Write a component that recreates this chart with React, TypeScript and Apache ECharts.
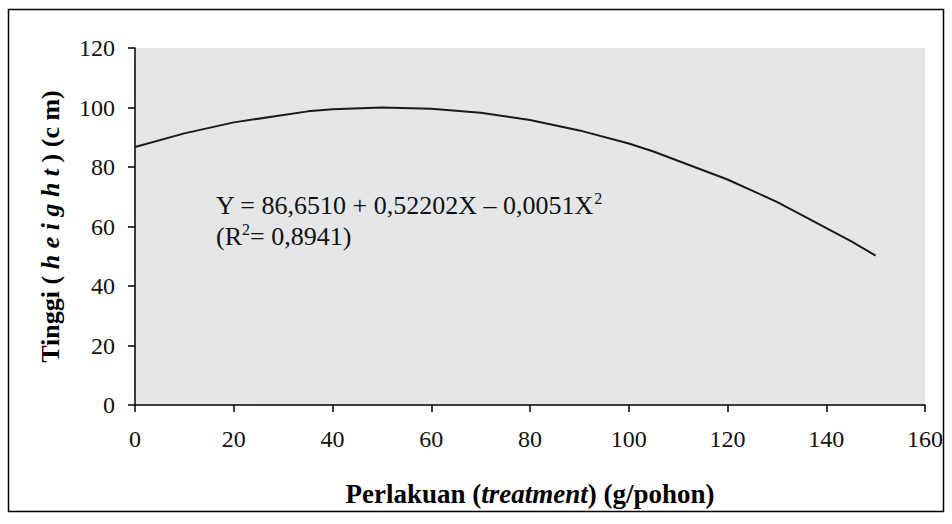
import React, { useEffect, useRef } from "react";
import * as echarts from "echarts";

const xValues = [0, 10, 20, 35, 40, 50, 60, 70, 80, 90, 100, 105, 120, 130, 145, 150];
const yValues = [86.7, 91.3, 95.0, 98.7, 99.4, 100.0, 99.6, 98.2, 95.8, 92.3, 87.9, 85.2, 75.8, 68.3, 55.1, 50.2];
const xTitle = ["Perlakuan (", "treatment", ") (g/pohon)"];
const yTitle = ["Tinggi ( ", "h e i g h t", " ) (c m)"];
const equationLine1 = "Y = 86,6510 + 0,52202X \u2013 0,0051X";
const equationLine2a = "(R";
const equationLine2b = "= 0,8941)";

const FONT = "'Liberation Serif', 'Times New Roman', serif";

export default function App() {
  const ref = useRef<HTMLDivElement>(null);
  useEffect(() => {
    if (!ref.current) return;
    const chart = echarts.init(ref.current, null, { renderer: "svg" });
    const data = xValues.map((x, i) => [x, yValues[i]]);
    chart.setOption({
      animation: false,
      backgroundColor: "#ffffff",
      textStyle: { fontFamily: FONT },
      grid: {
        left: 135,
        right: 27,
        top: 48,
        bottom: 119,
        show: true,
        backgroundColor: "#e5e6e8",
        borderWidth: 0,
      },
      xAxis: {
        type: "value",
        min: 0,
        max: 160,
        interval: 20,
        splitLine: { show: false },
        axisLine: { show: true, onZero: false, lineStyle: { color: "#000", width: 1.5 } },
        axisTick: { show: true, length: 7, lineStyle: { color: "#000", width: 1.5 } },
        axisLabel: { color: "#111", fontSize: 24, fontFamily: FONT, margin: 22 },
        name: `{b|${xTitle[0]}}{i|${xTitle[1]}}{b|${xTitle[2]}}`,
        nameLocation: "middle",
        nameGap: 75,
        nameTextStyle: {
          rich: {
            b: { fontSize: 27, fontWeight: "bold", fontFamily: FONT, color: "#000" },
            i: { fontSize: 27, fontWeight: "bold", fontStyle: "italic", fontFamily: FONT, color: "#000" },
          },
        },
      },
      yAxis: {
        type: "value",
        min: 0,
        max: 120,
        interval: 20,
        splitLine: { show: false },
        axisLine: { show: true, lineStyle: { color: "#000", width: 1.5 } },
        axisTick: { show: true, length: 7, lineStyle: { color: "#000", width: 1.5 } },
        axisLabel: { color: "#111", fontSize: 24, fontFamily: FONT, margin: 20 },
        name: `{b|${yTitle[0]}}{i|${yTitle[1]}}{b|${yTitle[2]}}`,
        nameLocation: "middle",
        nameGap: 72,
        nameTextStyle: {
          rich: {
            b: { fontSize: 26, fontWeight: "bold", fontFamily: FONT, color: "#000" },
            i: { fontSize: 26, fontWeight: "bold", fontStyle: "italic", fontFamily: FONT, color: "#000" },
          },
        },
      },
      series: [
        {
          type: "line",
          data,
          symbol: "none",
          smooth: false,
          lineStyle: { color: "#1a1a1a", width: 2 },
        },
      ],
      graphic: [
        {
          type: "rect",
          silent: true,
          shape: { x: 8.5, y: 9.5, width: 935, height: 502 },
          style: { fill: "none", stroke: "#000", lineWidth: 1.5 },
        },
        {
          type: "text",
          left: 216,
          top: 190,
          style: {
            text: `{n|${equationLine1}}{s|2}\n{n|${equationLine2a}}{s|2}{n|${equationLine2b}}`,
            rich: {
              n: { fontSize: 26, fontFamily: FONT, fill: "#111", lineHeight: 31 },
              s: { fontSize: 16, fontFamily: FONT, fill: "#111", verticalAlign: "top", lineHeight: 28 },
            },
          },
        },
      ],
    });
    return () => chart.dispose();
  }, []);
  return (
    <div
      ref={ref}
      style={{ position: "fixed", left: 0, top: 0, width: 952, height: 524 }}
    />
  );
}
